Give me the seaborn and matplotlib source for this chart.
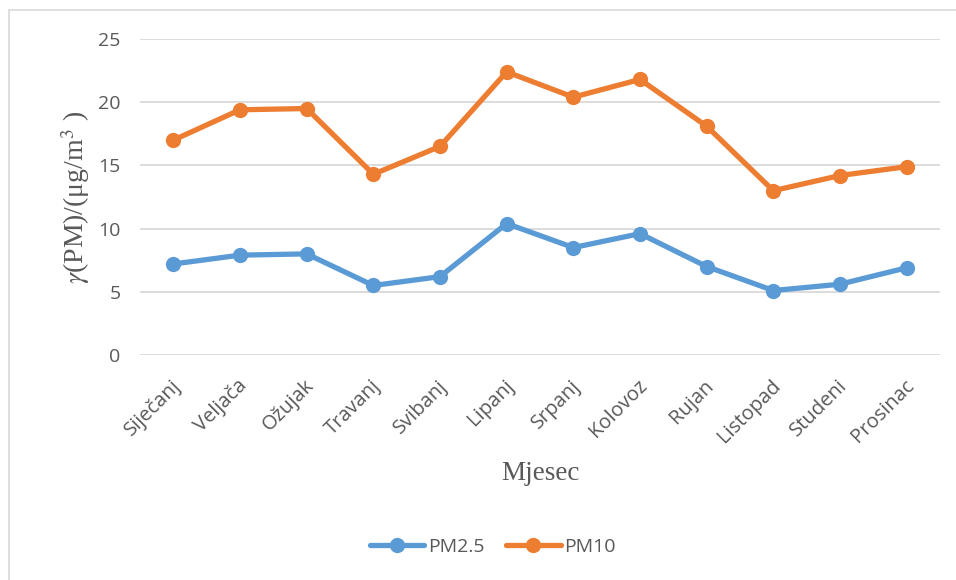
import matplotlib
matplotlib.use("Agg")
import matplotlib.pyplot as plt
import seaborn as sns
import pandas as pd
from matplotlib.patches import Rectangle
from matplotlib.transforms import ScaledTranslation

months = ["Siječanj", "Veljača", "Ožujak", "Travanj", "Svibanj", "Lipanj",
          "Srpanj", "Kolovoz", "Rujan", "Listopad", "Studeni", "Prosinac"]
pm25 = [7.2, 7.9, 8.0, 5.5, 6.2, 10.4, 8.5, 9.6, 7.0, 5.1, 5.6, 6.9]
pm10 = [17.0, 19.4, 19.5, 14.3, 16.5, 22.4, 20.4, 21.8, 18.1, 13.0, 14.2, 14.9]
series_names = ["PM2.5", "PM10"]
yticks = [0, 5, 10, 15, 20, 25]

df = pd.DataFrame({"Mjesec": months, "PM2.5": pm25, "PM10": pm10})
long = df.melt(id_vars="Mjesec", var_name="Serija", value_name="Vrijednost")

sns.set_theme(style="white")
plt.rcParams["font.family"] = ["Open Sans", "DejaVu Sans"]
plt.rcParams["mathtext.fontset"] = "stix"

fig = plt.figure(figsize=(9.56, 5.8), dpi=100)
ax = fig.add_axes([140/956, 1-355/580, 800/956, 316/580])

palette = {"PM2.5": "#5B9BD5", "PM10": "#ED7D31"}
sns.lineplot(data=long, x="Mjesec", y="Vrijednost", hue="Serija", hue_order=series_names,
             palette=palette, marker="o", markersize=11, markeredgewidth=0,
             linewidth=3.8, sort=False, ax=ax, legend=True)

ax.set_xlim(-0.5, len(months) - 0.5)
ax.set_ylim(0, 25)
ax.set_yticks(yticks)
ax.set_yticklabels([str(t) for t in yticks], fontsize=14, color="#595959")
ax.yaxis.grid(True, color="#D9D9D9", linewidth=1.3)
ax.xaxis.grid(False)
for s in ax.spines.values():
    s.set_visible(False)
ax.tick_params(axis="y", length=0, pad=14)
ax.tick_params(axis="x", length=0, pad=15)
ax.set_xticks(range(len(months)))
ax.set_xticklabels(months, fontsize=14.5, color="#595959", rotation=45,
                   ha="right", va="top", rotation_mode="anchor")
offset = ScaledTranslation(-2/72, 0, fig.dpi_scale_trans)
for lab in ax.get_xticklabels():
    lab.set_transform(lab.get_transform() + offset)

ax.set_xlabel("")
ax.set_ylabel("")
fig.text(540/956, 1-474/580, "Mjesec", family=["Liberation Serif"], fontsize=19.5,
         color="#595959", ha="center", va="center")
fig.text(76/956, 1-197/580, r"$\gamma$(PM)/(μg/m$^{3}$ )", family=["Liberation Serif"],
         fontsize=20, color="#595959", ha="center", va="center", rotation=90,
         rotation_mode="anchor")

leg = ax.legend(loc="center", bbox_to_anchor=(493/956, 1-547/580), bbox_transform=fig.transFigure,
                ncol=2, frameon=False, fontsize=14, handlelength=2.8, columnspacing=1.1,
                handletextpad=0.2)
for t in leg.get_texts():
    t.set_color("#595959")

fig.patches.append(Rectangle((8.5/956, -0.05), 1.1, 1.05 - 10/580, transform=fig.transFigure,
                             fill=False, edgecolor="#D9D9D9", linewidth=1.2))

fig.savefig("out.png", dpi=100, facecolor="white")
